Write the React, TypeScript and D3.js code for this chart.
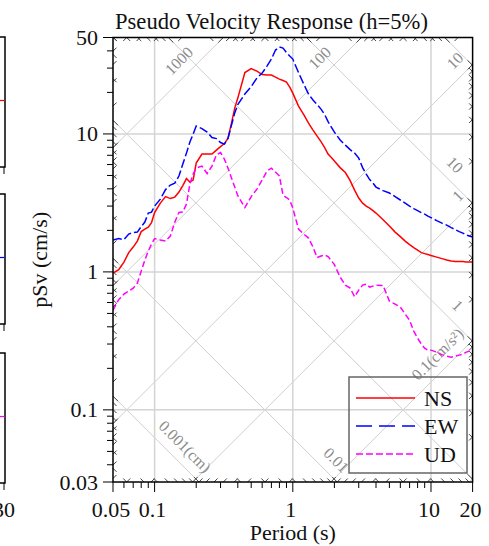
import * as d3 from 'd3'

const W = 489
const H = 546
const margin = { top: 37.5, right: 16.4, bottom: 64, left: 113 }

// period (s)
const periods = [
  0.05, 0.055, 0.06, 0.065, 0.07, 0.075, 0.08, 0.085, 0.09, 0.095,
  0.1, 0.11, 0.12, 0.13, 0.14, 0.15, 0.16, 0.17, 0.18, 0.19,
  0.2, 0.22, 0.24, 0.26, 0.28, 0.3, 0.32, 0.34, 0.36, 0.38,
  0.4, 0.45, 0.5, 0.55, 0.6, 0.65, 0.7, 0.75, 0.8, 0.85, 0.9, 0.95,
  1.0, 1.1, 1.2, 1.3, 1.4, 1.5, 1.6, 1.7, 1.8, 1.9,
  2.0, 2.2, 2.4, 2.6, 2.8, 3.0, 3.2, 3.4, 3.6, 3.8,
  4.0, 4.5, 5, 5.5, 6, 6.5, 7, 7.5, 8, 8.5, 9, 9.5,
  10, 11, 12, 13, 14, 15, 16, 17, 18, 19, 20,
]

// pSv (cm/s)
const nsVel = [
  0.98, 1.039, 1.178, 1.38, 1.513, 1.672, 1.959, 2.043, 2.113, 2.278,
  2.692, 3.153, 3.514, 3.4, 3.485, 3.788, 4.223, 4.747, 4.477, 4.629,
  6.149, 7.143, 7.143, 7.143, 7.637, 8.095, 8.511, 9.33, 11.98, 15.39,
  18.19, 27.84, 29.76, 28.54, 26.92, 26.7, 26.7, 25.83, 24.98, 24.37, 23.76, 21.86,
  19.77, 15.92, 13.81, 11.98, 10.66, 9.65, 8.8, 7.96, 7.14, 6.74,
  6.36, 5.7, 5.25, 4.59, 3.92, 3.43, 3.15, 3.0, 2.9, 2.78,
  2.67, 2.39, 2.15, 1.943, 1.803, 1.672, 1.577, 1.5, 1.439, 1.38, 1.357, 1.335,
  1.313, 1.28, 1.248, 1.218, 1.198, 1.188, 1.188, 1.188, 1.178, 1.178, 1.178,
]

const ewVel = [
  1.7, 1.744, 1.714, 1.879, 1.927, 1.943, 2.13, 2.296, 2.668, 2.713,
  3.0, 3.37, 3.95, 4.26, 4.4, 4.95, 6.05, 7.26, 8.73, 9.97,
  11.4, 10.93, 10.31, 9.41, 9.25, 8.66, 8.44, 9.33, 11.59, 14.16,
  16.32, 19.45, 22.04, 25.41, 27.61, 31.04, 34.88, 40.55, 42.63, 41.92, 38.89, 36.68,
  34.88, 27.84, 22.98, 19.45, 17.6, 16.32, 15.14, 13.81, 12.29, 11.21,
  10.31, 9.03, 8.3, 7.7, 7.26, 6.68, 5.7, 5.12, 4.67, 4.4,
  4.12, 3.88, 3.73, 3.51, 3.32, 3.15, 3.0, 2.876, 2.782, 2.692, 2.624, 2.538,
  2.475, 2.354, 2.258, 2.184, 2.095, 2.026, 1.959, 1.911, 1.848, 1.818, 1.788,
]

const udVel = [
  0.529, 0.63, 0.69, 0.726, 0.763, 0.829, 1.013, 1.218, 1.415, 1.59,
  1.744, 1.7, 1.672, 1.818, 2.296, 2.692, 2.713, 3.1, 4.33, 5.12,
  5.65, 5.85, 5.16, 5.85, 7.03, 7.33, 6.57, 5.65, 4.79, 4.12,
  3.57, 2.925, 3.51, 3.98, 4.63, 5.38, 5.65, 5.29, 4.95, 3.6, 3.46, 3.32,
  2.9, 2.043, 1.879, 1.758, 1.513, 1.27, 1.302, 1.324, 1.291, 1.207,
  1.129, 0.917, 0.802, 0.763, 0.661, 0.738, 0.802, 0.816, 0.776, 0.789,
  0.802, 0.796, 0.614, 0.584, 0.556, 0.494, 0.447, 0.372, 0.331, 0.3, 0.28, 0.271,
  0.271, 0.262, 0.2514, 0.2453, 0.2412, 0.2453, 0.2493, 0.2535, 0.262, 0.2666, 0.271,
]

const seriesNames = ['NS', 'EW', 'UD']
const seriesColors = ['#ff0000', '#0000ff', '#ff00ff']
const plotDash = ['none', '9,3', '6,3']
const legendDash = ['none', '16,7', '7,3']

const xTickValues = [0.05, 0.1, 1, 10, 20]
const xTickLabels = ['0.05', '0.1', '1', '10', '20']
const yTickValues = [0.03, 0.1, 1, 10, 50]
const yTickLabels = ['0.03', '0.1', '1', '10', '50']
const gridValues = [0.1, 1, 10]

// diagonal scales: acceleration (cm/s2) and displacement (cm)
const accelLines = [0.001, 0.01, 0.1, 1, 10, 100, 1000, 10000, 100000]
const dispLines = [0.00001, 0.0001, 0.001, 0.01, 0.1, 1, 10, 100, 1000]
const accelLabelValues = [1000, 100, 10, 1, 0.1]
const accelLabelText = ['1000', '100', '10', '1', '0.1(cm/s²)']
const dispLabelValues = [0.001, 0.01, 1, 10]
const dispLabelText = ['0.001(cm)', '0.01', '1', '10']

const TWO_PI = 2 * Math.PI
const font = "'Liberation Serif', 'Times New Roman', serif"

export default function App() {
  const x = d3.scaleLog().domain([0.05, 20]).range([margin.left, W - margin.right])
  const y = d3.scaleLog().domain([0.03, 50]).range([H - margin.bottom, margin.top])
  const left = margin.left
  const right = W - margin.right
  const top = margin.top
  const bottom = H - margin.bottom

  const line = d3.line<[number, number]>().x(d => x(d[0])).y(d => y(d[1]))
  const series = [nsVel, ewVel, udVel].map(vals => periods.map((p, i) => [p, vals[i]] as [number, number]))

  const diagT = [0.0001, 10000]
  const accelPath = (a: number) => line(diagT.map(t => [t, (a * t) / TWO_PI] as [number, number]))
  const dispPath = (dd: number) => line(diagT.map(t => [t, (TWO_PI * dd) / t] as [number, number]))

  // minor ticks of the diagonal scales where they meet the frame
  const inside = (px: number, py: number) => px >= left - 0.5 && px <= right + 0.5 && py >= top - 0.5 && py <= bottom + 0.5
  const diagTicks: { x1: number; y1: number; x2: number; y2: number }[] = []
  const s2 = Math.SQRT1_2
  for (let n = -6; n <= 6; n++) {
    for (let m = 1; m <= 9; m++) {
      const val = m * Math.pow(10, n)
      const L = m === 1 ? 7 : 5
      // acceleration: v = a T / 2pi
      const aPts: [number, number, number, number][] = [
        [x((TWO_PI * 50) / val), top, -1, 1],
        [x((TWO_PI * 0.03) / val), bottom, 1, -1],
        [left, y((val * 0.05) / TWO_PI), 1, -1],
        [right, y((val * 20) / TWO_PI), -1, 1],
      ]
      // displacement: v = 2pi d / T
      const dPts: [number, number, number, number][] = [
        [x((TWO_PI * val) / 50), top, 1, 1],
        [x((TWO_PI * val) / 0.03), bottom, -1, -1],
        [left, y((TWO_PI * val) / 0.05), 1, 1],
        [right, y((TWO_PI * val) / 20), -1, -1],
      ]
      for (const [px, py, dx, dy] of [...aPts, ...dPts]) {
        if (!inside(px, py)) continue
        const ex = px + dx * L * s2
        const ey = py + dy * L * s2
        if (!inside(ex, ey)) continue
        diagTicks.push({ x1: px, y1: py, x2: ex, y2: ey })
      }
    }
  }

  // label positions for the diagonal scales
  const off = 15
  const inset = 12
  const accelLabels = accelLabelValues.map((a, i) => {
    const t = 1
    const px = x(t) - off * s2
    const py = y((a * t) / TWO_PI) - off * s2
    const sA = (py - top - inset) / s2
    const sB = (right - inset - px) / s2
    const s = Math.min(sA, sB)
    return { text: accelLabelText[i], x: px + s * s2, y: py - s * s2, rot: -45 }
  })
  const dispLabels = dispLabelValues.map((dd, i) => {
    const t = 1
    const px = x(t) + off * s2
    const py = y((TWO_PI * dd) / t) - off * s2
    const sA = (bottom - inset - py) / s2
    const sB = (right - inset - px) / s2
    const s = Math.min(sA, sB)
    return { text: dispLabelText[i], x: px + s * s2, y: py + s * s2, rot: 45 }
  })

  const xMinor = x.ticks(40).filter(t => !xTickValues.some(v => Math.abs(v - t) < 1e-9))
  const yMinor = y.ticks(40).filter(t => !yTickValues.some(v => Math.abs(v - t) < 1e-9))

  // fragments of the neighbouring time-history panels at the far left
  const panelTops = [37, 194, 353]
  const panelH = 130

  const legendX = 349
  const legendY = 377
  const legendRow = 28

  return (
    <svg
      width={W}
      height={H}
      style={{ position: 'absolute', left: 0, top: 0, background: '#fff', fontFamily: font }}
    >
      <defs>
        <clipPath id="plot-clip">
          <rect x={left} y={top} width={right - left} height={bottom - top} />
        </clipPath>
      </defs>

      {/* left panel fragments */}
      {panelTops.map((pt, i) => (
        <g key={'p' + i}>
          <rect x={-10} y={pt} width={15} height={panelH} fill="none" stroke="#000" strokeWidth={1.5} />
          <line x1={0} x2={4.5} y1={pt + panelH / 2 - 1.5} y2={pt + panelH / 2 - 1.5} stroke={seriesColors[i]} strokeWidth={1.2} />
          <line x1={4} x2={4} y1={pt + panelH} y2={pt + panelH + 7} stroke="#000" strokeWidth={1} />
        </g>
      ))}
      <text x={4} y={517} fontSize={22} textAnchor="middle" fill="#111">30</text>

      {/* grid */}
      <g clipPath="url(#plot-clip)">
        {accelLines.map(a => (
          <path key={'a' + a} d={accelPath(a) || ''} fill="none" stroke="#cfcfcf" strokeWidth={1} />
        ))}
        {dispLines.map(dd => (
          <path key={'d' + dd} d={dispPath(dd) || ''} fill="none" stroke="#cfcfcf" strokeWidth={1} />
        ))}
        {gridValues.map(g => (
          <line key={'gx' + g} x1={x(g)} x2={x(g)} y1={top} y2={bottom} stroke="#d4d4d4" strokeWidth={1.5} />
        ))}
        {gridValues.map(g => (
          <line key={'gy' + g} x1={left} x2={right} y1={y(g)} y2={y(g)} stroke="#d4d4d4" strokeWidth={1.5} />
        ))}
      </g>

      {/* diagonal scale labels */}
      {[...accelLabels, ...dispLabels].map((l, i) => (
        <text
          key={'dl' + i}
          x={l.x}
          y={l.y}
          fontSize={16}
          fill="#8c8c8c"
          textAnchor="end"
          dominantBaseline="central"
          transform={`rotate(${l.rot},${l.x},${l.y})`}
        >
          {l.text}
        </text>
      ))}

      {/* diagonal ticks on frame */}
      {diagTicks.map((t, i) => (
        <line key={'dt' + i} x1={t.x1} y1={t.y1} x2={t.x2} y2={t.y2} stroke="#444" strokeWidth={1} />
      ))}

      {/* series */}
      <g clipPath="url(#plot-clip)">
        {series.map((s, i) => (
          <path
            key={seriesNames[i]}
            d={line(s) || ''}
            fill="none"
            stroke={seriesColors[i]}
            strokeWidth={1.5}
            strokeDasharray={plotDash[i]}
          />
        ))}
      </g>

      {/* frame */}
      <rect x={left} y={top} width={right - left} height={bottom - top} fill="none" stroke="#000" strokeWidth={1.5} />

      {/* axes ticks */}
      {xTickValues.map(v => (
        <line key={'xt' + v} x1={x(v)} x2={x(v)} y1={bottom} y2={bottom + 10} stroke="#000" strokeWidth={1} />
      ))}
      {xMinor.map(v => (
        <line key={'xm' + v} x1={x(v)} x2={x(v)} y1={bottom} y2={bottom + 6} stroke="#000" strokeWidth={1} />
      ))}
      {yTickValues.map(v => (
        <line key={'yt' + v} x1={left - 10} x2={left} y1={y(v)} y2={y(v)} stroke="#000" strokeWidth={1} />
      ))}
      {yMinor.map(v => (
        <line key={'ym' + v} x1={left - 6} x2={left} y1={y(v)} y2={y(v)} stroke="#000" strokeWidth={1} />
      ))}

      {xTickValues.map((v, i) => (
        <text key={'xl' + v} x={x(v) - 2} y={517} fontSize={22} textAnchor="middle" fill="#111">
          {xTickLabels[i]}
        </text>
      ))}
      {yTickValues.map((v, i) => (
        <text key={'yl' + v} x={98} y={y(v)} fontSize={22} textAnchor="end" dominantBaseline="central" fill="#111">
          {yTickLabels[i]}
        </text>
      ))}

      {/* titles */}
      <text x={115} y={29} fontSize={22.6} fill="#111">Pseudo Velocity Response (h=5%)</text>
      <text x={(left + right) / 2} y={540} fontSize={22} textAnchor="middle" fill="#111">Period (s)</text>
      <text
        x={47}
        y={(top + bottom) / 2}
        fontSize={22}
        textAnchor="middle"
        fill="#111"
        transform={`rotate(-90,47,${(top + bottom) / 2})`}
      >
        pSv (cm/s)
      </text>

      {/* legend */}
      <rect x={legendX} y={legendY} width={118} height={96} fill="none" stroke="#666" strokeWidth={1.5} />
      {seriesNames.map((name, i) => (
        <g key={'lg' + name}>
          <line
            x1={legendX + 7}
            x2={legendX + 66}
            y1={legendY + 21 + i * legendRow}
            y2={legendY + 21 + i * legendRow}
            stroke={seriesColors[i]}
            strokeWidth={1.5}
            strokeDasharray={legendDash[i]}
          />
          <text x={legendX + 75} y={legendY + 28.5 + i * legendRow} fontSize={22} fill="#111">
            {name}
          </text>
        </g>
      ))}
    </svg>
  )
}
